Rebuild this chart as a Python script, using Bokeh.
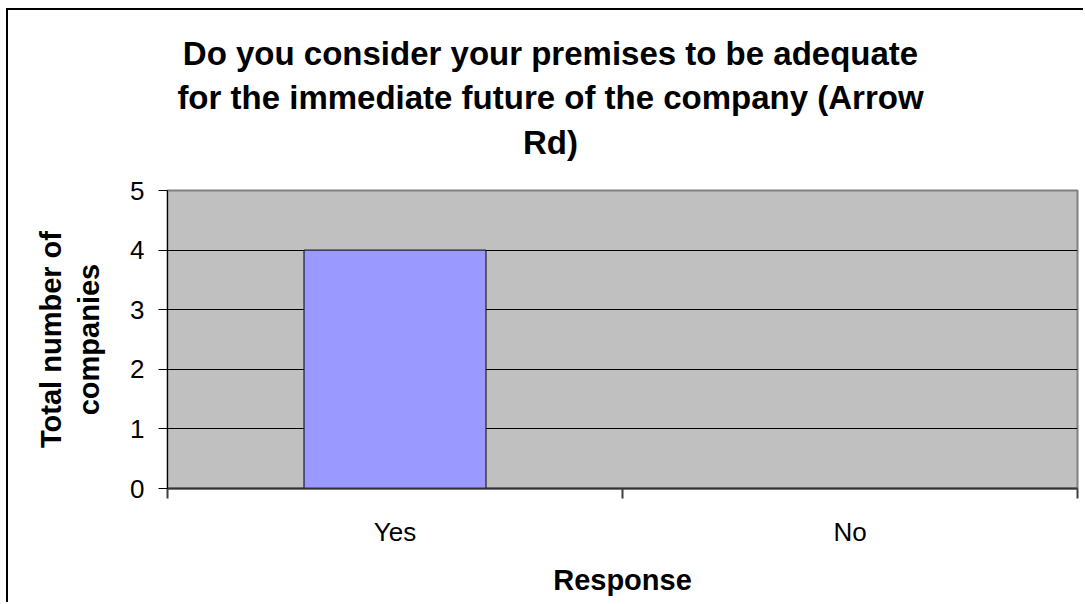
from bokeh.plotting import figure
from bokeh.models import Range1d, LinearAxis, FixedTicker, Label
from bokeh.embed import file_html
from bokeh.resources import INLINE

# ---- data ----
title_text = ("Do you consider your premises to be adequate\n"
              "for the immediate future of the company (Arrow\n"
              "Rd)")
categories = ["Yes", "No"]
counts = [4, 0]
y_ticks = [0, 1, 2, 3, 4, 5]
x_title = "Response"
y_title = "Total number of\ncompanies"

FONT = "Liberation Sans"

n = len(categories)
centers = [i + 0.5 for i in range(n)]      # category slot centres
bounds = list(range(n + 1))               # category slot boundaries

p = figure(x_range=Range1d(0, n), y_range=Range1d(0, 5),
           width=1077, height=594, output_backend="svg", toolbar_location=None,
           x_axis_location=None, y_axis_location="left",
           min_border_left=159, min_border_right=8, min_border_top=180,
           min_border_bottom=116,
           styles={"border-top": "2px solid black", "border-left": "2px solid black",
                   "margin-top": "8px", "margin-left": "6px"})

p.background_fill_color = "#C0C0C0"
p.border_fill_color = "white"
p.outline_line_color = "#808080"
p.outline_line_width = 2
p.xgrid.visible = False

# y axis
ya = p.yaxis[0]
ya.ticker = FixedTicker(ticks=y_ticks)
ya.major_tick_out = 9
ya.major_tick_in = 0
ya.minor_tick_line_color = None
ya.axis_line_color = "black"
ya.major_tick_line_color = "black"
ya.major_label_standoff = 14
ya.major_label_text_font = FONT
ya.major_label_text_font_size = "26px"
ya.major_label_text_color = "black"
ya.axis_label = y_title
ya.axis_label_standoff = 22
ya.axis_label_text_font = FONT
ya.axis_label_text_font_size = "29px"
ya.axis_label_text_font_style = "bold"
ya.axis_label_text_color = "black"
ya.axis_label_text_line_height = 1.2

p.ygrid.grid_line_color = "black"
p.ygrid.grid_line_width = 1

# boundary ticks between categories (labels not painted)
tick_axis = LinearAxis(ticker=FixedTicker(ticks=bounds),
                       major_label_text_font_size="1px", major_label_text_color=None,
                       major_label_standoff=0,
                       major_tick_in=0, major_tick_out=10,
                       minor_tick_in=0, minor_tick_out=0,
                       axis_line_color="#333333", axis_line_width=2,
                       major_tick_line_color="#404040", major_tick_line_width=2)
p.add_layout(tick_axis, "below")

# category labels at slot centres
cat_axis = LinearAxis(ticker=FixedTicker(ticks=centers),
                      major_label_overrides={c: name for c, name in zip(centers, categories)},
                      major_tick_out=0, major_tick_in=0,
                      minor_tick_in=0, minor_tick_out=0,
                      major_tick_line_color=None, minor_tick_line_color=None,
                      axis_line_color=None, major_label_standoff=18,
                      major_label_text_font=FONT, major_label_text_font_size="26px",
                      major_label_text_color="black",
                      axis_label=x_title, axis_label_standoff=14,
                      axis_label_text_font=FONT, axis_label_text_font_size="29px",
                      axis_label_text_font_style="bold", axis_label_text_color="black")
p.add_layout(cat_axis, "below")

p.vbar(x=centers, top=counts, width=0.4, fill_color="#9999FF",
       line_color="black", line_width=1)

# chart title, placed in the panel above the plot area
title = Label(x=383, y=156, x_units="screen", y_units="screen", text=title_text,
              text_align="center", text_baseline="top", text_font=FONT,
              text_font_size="33px", text_font_style="bold", text_color="black",
              text_line_height=1.207)
p.add_layout(title, "above")

open("out.html", "w").write(file_html(p, INLINE))
